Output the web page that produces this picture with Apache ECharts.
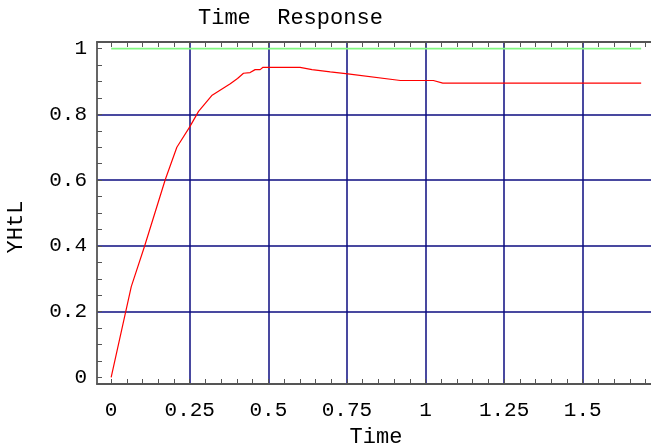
<!DOCTYPE html>
<html>
<head>
<meta charset="utf-8">
<script src="https://cdn.jsdelivr.net/npm/echarts@6/dist/echarts.min.js"></script>
<style>
html,body{margin:0;padding:0;background:#fff;}
#chart{width:651px;height:446px;}
</style>
</head>
<body>
<div id="chart"></div>
<script>
// ---- data ----
const tValues = [0, 0.064, 0.106, 0.172, 0.209, 0.25, 0.278, 0.32, 0.379, 0.402, 0.421, 0.442, 0.458, 0.474, 0.483, 0.601, 0.639, 0.697, 0.753, 0.92, 1.025, 1.055, 1.686];
const yValues = [0, 0.276, 0.398, 0.601, 0.700, 0.762, 0.809, 0.857, 0.893, 0.909, 0.925, 0.927, 0.936, 0.936, 0.943, 0.943, 0.936, 0.929, 0.923, 0.903, 0.903, 0.895, 0.895];
const refT = [0, 1.686];
const refY = [1, 1];
const xTickLabels = [0, 0.25, 0.5, 0.75, 1, 1.25, 1.5];
const yTickLabels = [0, 0.2, 0.4, 0.6, 0.8, 1];
const xGridValues = [0.25, 0.5, 0.75, 1, 1.25, 1.5];
const yGridValues = [0.2, 0.4, 0.6, 0.8];
const titleText = 'Time  Response';
const xName = 'Time';
const yName = 'YHtL';

const xMinor = []; for (let i = 0; i <= 34; i++) xMinor.push(+(i * 0.05).toFixed(2));
const yMinor = []; for (let i = 0; i <= 20; i++) yMinor.push(+(i * 0.05).toFixed(2));

const FONT = '"Liberation Mono", "DejaVu Sans Mono", monospace';
const XMIN = -0.045, XMAX = 1.73, YMIN = -0.02, YMAX = 1.02;
const frameColor = '#555555';
const gridColor = '#0c0c80';

const chart = echarts.init(document.getElementById('chart'), null, {renderer: 'canvas'});
chart.setOption({
  animation: false,
  backgroundColor: '#ffffff',
  title: {
    text: titleText, left: 193, top: 2,
    textStyle: {fontFamily: FONT, fontSize: 22, fontWeight: 'normal', color: '#000'}
  },
  grid: {left: 97, top: 42, right: -4, bottom: 62, containLabel: false, outerBoundsMode: 'none'},
  graphic: [{
    type: 'text', x: 16, y: 227, rotation: Math.PI / 2,
    style: {text: yName, font: '22px ' + FONT, fill: '#000', align: 'center', verticalAlign: 'middle'}
  }],
  xAxis: [
    { // bottom frame with minor ticks & labels
      type: 'value', min: XMIN, max: XMAX, position: 'bottom',
      axisLine: {onZero: false, lineStyle: {color: frameColor, width: 1.8}},
      axisTick: {customValues: xMinor, inside: true, length: 5, lineStyle: {color: frameColor, width: 1}},
      axisLabel: {customValues: xTickLabels, margin: 16, fontFamily: FONT, fontSize: 21, color: '#000'},
      splitLine: {show: false},
      name: xName, nameLocation: 'middle', nameGap: 42,
      nameTextStyle: {fontFamily: FONT, fontSize: 22, color: '#000'}
    },
    { // vertical grid lines
      type: 'value', min: XMIN, max: XMAX, position: 'bottom',
      axisLine: {show: false}, axisLabel: {show: false},
      axisTick: {show: false, customValues: xGridValues},
      splitLine: {show: true, lineStyle: {color: gridColor, width: 1.5}}
    },
    { // top frame
      type: 'value', min: XMIN, max: XMAX, position: 'top',
      axisLine: {onZero: false, lineStyle: {color: frameColor, width: 1.8}},
      axisTick: {customValues: xMinor, inside: true, length: 5, lineStyle: {color: frameColor, width: 1}},
      axisLabel: {show: false}, splitLine: {show: false}
    }
  ],
  yAxis: [
    {
      type: 'value', min: YMIN, max: YMAX, position: 'left',
      axisLine: {onZero: false, lineStyle: {color: frameColor, width: 1.8}},
      axisTick: {customValues: yMinor, inside: true, length: 5, lineStyle: {color: frameColor, width: 1}},
      axisLabel: {customValues: yTickLabels, margin: 10, fontFamily: FONT, fontSize: 21, color: '#000'},
      splitLine: {show: false}
    },
    {
      type: 'value', min: YMIN, max: YMAX, position: 'left',
      axisLine: {show: false}, axisLabel: {show: false},
      axisTick: {show: false, customValues: yGridValues},
      splitLine: {show: true, lineStyle: {color: gridColor, width: 1.5}}
    }
  ],
  series: [
    {
      type: 'line', xAxisIndex: 0, yAxisIndex: 0, showSymbol: false, z: 5,
      data: refT.map((t, i) => [t, refY[i]]),
      lineStyle: {color: '#80f880', width: 1.8}
    },
    {
      type: 'line', xAxisIndex: 0, yAxisIndex: 0, showSymbol: false, z: 6,
      data: tValues.map((t, i) => [t, yValues[i]]),
      lineStyle: {color: '#ff0000', width: 1.2}
    }
  ]
});
</script>
</body>
</html>
